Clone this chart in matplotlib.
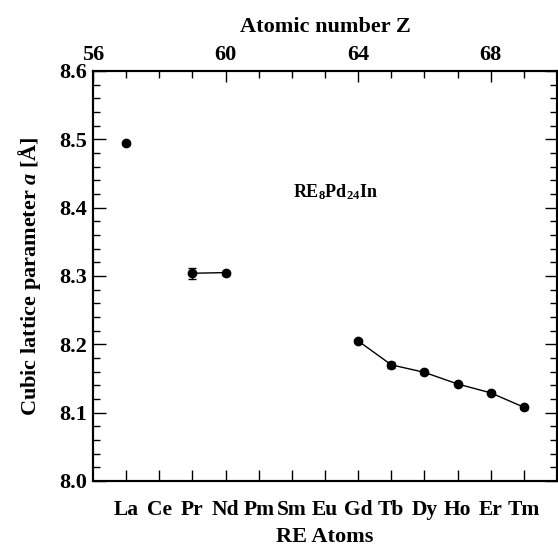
import matplotlib
matplotlib.use("Agg")
import matplotlib.pyplot as plt
from matplotlib.ticker import FixedLocator, MultipleLocator

plt.rcParams['font.family'] = ['Liberation Serif', 'DejaVu Serif']
plt.rcParams['font.weight'] = 'bold'
plt.rcParams['mathtext.fontset'] = 'custom'
plt.rcParams['mathtext.rm'] = 'Liberation Serif:bold'
plt.rcParams['mathtext.bf'] = 'Liberation Serif:bold'
plt.rcParams['mathtext.it'] = 'Liberation Serif:bold:italic'

# Data
elements = ["La", "Ce", "Pr", "Nd", "Pm", "Sm", "Eu", "Gd", "Tb", "Dy", "Ho", "Er", "Tm"]
element_z = [57, 58, 59, 60, 61, 62, 63, 64, 65, 66, 67, 68, 69]

z_la = [57]
a_la = [8.494]
err_la = [0.002]

z_prnd = [59, 60]
a_prnd = [8.304, 8.305]
err_prnd = [0.008, 0.003]

z_heavy = [64, 65, 66, 67, 68, 69]
a_heavy = [8.205, 8.170, 8.159, 8.142, 8.129, 8.108]
err_heavy = [0.002, 0.004, 0.002, 0.002, 0.002, 0.002]

top_ticks = [56, 60, 64, 68]

fig = plt.figure(figsize=(5.58, 5.51), dpi=100)
ax = fig.add_axes([93/558, 70/551, 464/558, 410/551])

kw = dict(color='black', marker='o', markersize=6, lw=1.0, capsize=3, elinewidth=1.0, capthick=1.0)
ax.errorbar(z_la, a_la, yerr=err_la, **kw)
ax.errorbar(z_prnd, a_prnd, yerr=err_prnd, **kw)
ax.errorbar(z_heavy, a_heavy, yerr=err_heavy, **kw)

ax.set_xlim(56, 70)
ax.set_ylim(8.0, 8.6)
ax.xaxis.set_major_locator(FixedLocator(element_z))
ax.set_xticklabels(elements, fontsize=15.5, fontweight='bold')
ax.yaxis.set_major_locator(MultipleLocator(0.1))
ax.yaxis.set_minor_locator(MultipleLocator(0.02))
ax.yaxis.set_major_formatter(matplotlib.ticker.FormatStrFormatter('%.1f'))
for lab in ax.get_yticklabels():
    lab.set_fontsize(16)
    lab.set_fontweight('bold')
ax.tick_params(axis='x', which='major', direction='in', length=8, width=1, top=False, pad=14)
ax.tick_params(axis='y', which='major', direction='in', length=9, width=1, right=True, labelsize=16, pad=4)
ax.tick_params(axis='y', which='minor', direction='in', length=5, width=1, right=True)

ax.set_xlabel("RE Atoms", fontsize=16, fontweight='bold', labelpad=5)
ax.set_ylabel(r"Cubic lattice parameter $\mathit{a}$ [Å]", fontsize=16, fontweight='bold', labelpad=12)

ax2 = ax.twiny()
ax2.set_xlim(56, 70)
ax2.xaxis.set_major_locator(FixedLocator(top_ticks))
ax2.xaxis.set_minor_locator(MultipleLocator(1))
ax2.tick_params(axis='x', which='major', direction='in', length=8, width=1, labelsize=16, pad=4)
ax2.tick_params(axis='x', which='minor', direction='in', length=5, width=1)
for lab in ax2.get_xticklabels():
    lab.set_fontweight('bold')
ax2.set_xlabel("Atomic number Z", fontsize=16, fontweight='bold', labelpad=10)

for a in (ax, ax2):
    for s in a.spines.values():
        s.set_linewidth(1.5)

ax.text(63.3, 8.423, r"RE$_8$Pd$_{24}$In", fontsize=13, fontweight='bold', ha='center', va='center')

fig.savefig("out.png", dpi=100)
